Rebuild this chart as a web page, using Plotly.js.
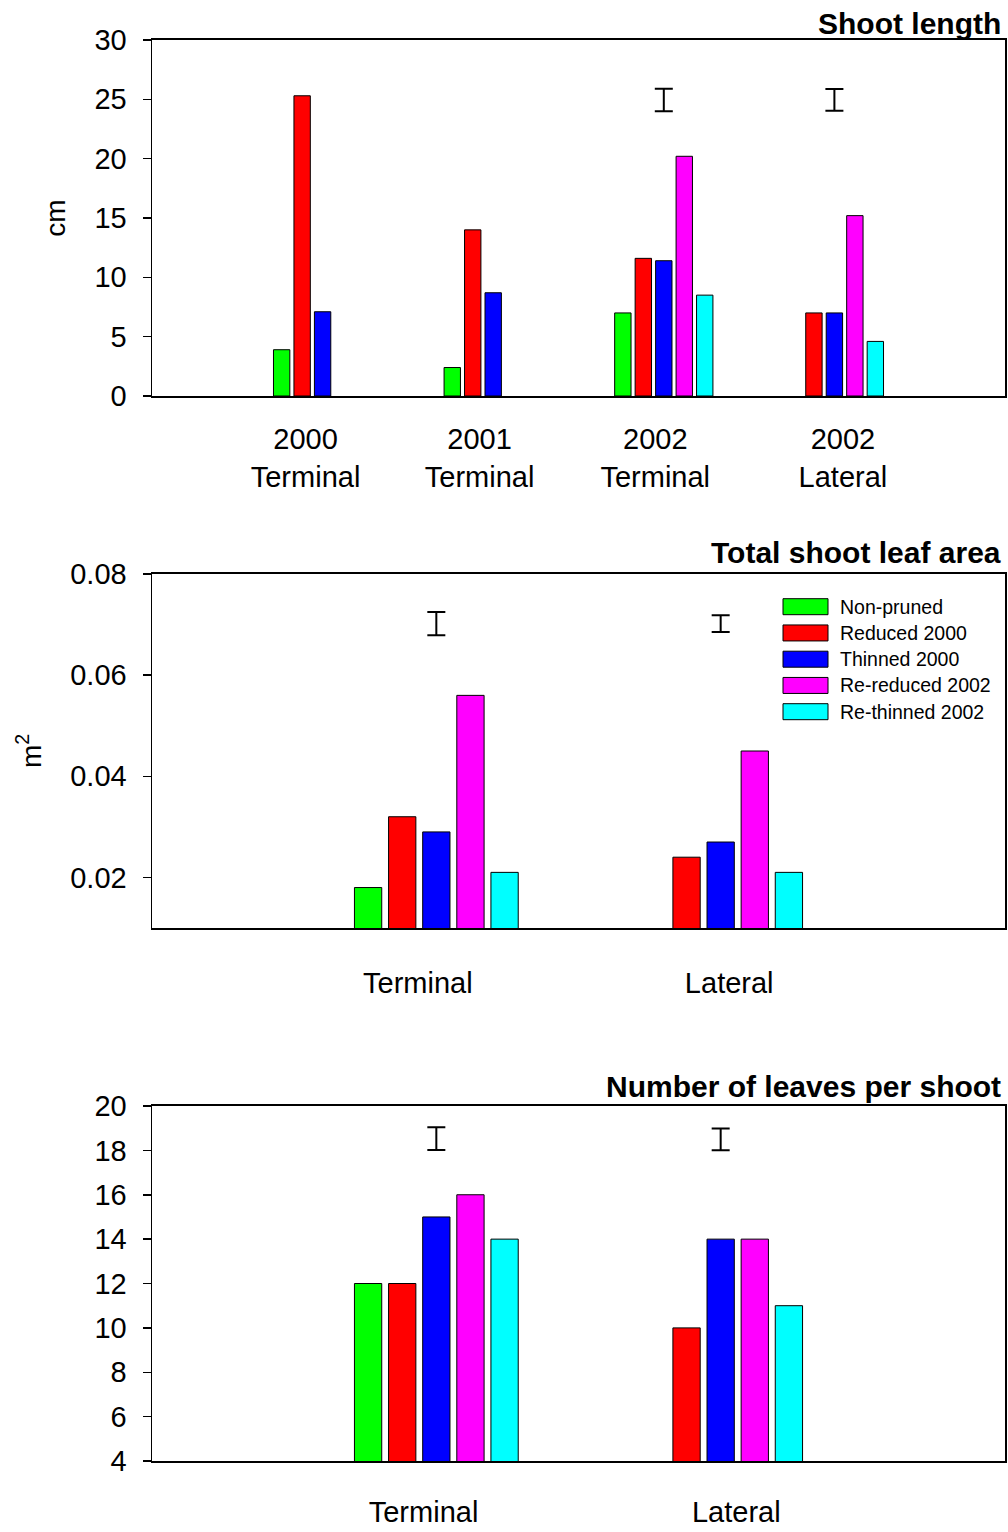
<!DOCTYPE html>
<html><head><meta charset="utf-8">
<script src="https://cdn.plot.ly/plotly-3.0.1.min.js"></script>
<style>html,body{margin:0;padding:0;background:#fff}</style>
</head><body>
<div id="chart" style="width:1008px;height:1532px"></div>
<script>
// ---------- data ----------
const seriesNames = ['Non-pruned', 'Reduced 2000', 'Thinned 2000', 'Re-reduced 2002', 'Re-thinned 2002'];
const seriesColors = ['#00ff00', '#ff0000', '#0000ff', '#ff00ff', '#00ffff'];

// Panel 1: Shoot length (cm)
const lengthCategories = ['2000<br>Terminal', '2001<br>Terminal', '2002<br>Terminal', '2002<br>Lateral'];
const lengthNonPruned = [3.9, 2.4, 7.0, null];
const lengthReduced2000 = [25.3, 14.0, 11.6, 7.0];
const lengthThinned2000 = [7.1, 8.7, 11.4, 7.0];
const lengthReReduced2002 = [null, null, 20.2, 15.2];
const lengthReThinned2002 = [null, null, 8.5, 4.6];
const lengthLsdCategories = ['2002<br>Terminal', '2002<br>Lateral'];
const lengthLsdCenter = [24.95, 24.95];
const lengthLsdHalf = [0.95, 0.92];
const lengthTicks = [0, 5, 10, 15, 20, 25, 30];

// Panel 2: Total shoot leaf area (m2)
const areaCategories = ['Terminal', 'Lateral'];
const areaNonPruned = [0.018, null];
const areaReduced2000 = [0.032, 0.024];
const areaThinned2000 = [0.029, 0.027];
const areaReReduced2002 = [0.056, 0.045];
const areaReThinned2002 = [0.021, 0.021];
const areaLsdCenter = [0.0702, 0.0702];
const areaLsdHalf = [0.0023, 0.00165];
const areaTicks = [0.02, 0.04, 0.06, 0.08];

// Panel 3: Number of leaves per shoot
const leavesCategories = ['Terminal', 'Lateral'];
const leavesNonPruned = [12, null];
const leavesReduced2000 = [12, 10];
const leavesThinned2000 = [15, 14];
const leavesReReduced2002 = [16, 14];
const leavesReThinned2002 = [14, 11];
const leavesLsdCenter = [18.53, 18.5];
const leavesLsdHalf = [0.51, 0.49];
const leavesTicks = [4, 6, 8, 10, 12, 14, 16, 18, 20];

// ---------- build ----------
const W = 1008, H = 1532;
const px = v => v / W;
const py = v => 1 - v / H;
const FONT = 'Liberation Sans, Arial, sans-serif';

const traces = [];
function addPanel(cats, seriesVals, lsdCenter, lsdHalf, lsdCats, xa, ya) {
  seriesVals.forEach((vals, i) => {
    traces.push({
      type: 'bar', x: cats, y: vals, name: seriesNames[i],
      xaxis: xa, yaxis: ya, showlegend: false,
      marker: {color: seriesColors[i], line: {color: '#000', width: 1}},
      hoverinfo: 'x+y+name'
    });
  });
  traces.push({
    type: 'scatter', mode: 'markers', x: lsdCats, y: lsdCenter,
    xaxis: xa, yaxis: ya, showlegend: false, hoverinfo: 'skip',
    marker: {size: 1, color: 'rgba(0,0,0,0)'},
    error_y: {type: 'data', array: lsdHalf, visible: true, color: '#000', thickness: 2, width: 9}
  });
}
addPanel(lengthCategories,
  [lengthNonPruned, lengthReduced2000, lengthThinned2000, lengthReReduced2002, lengthReThinned2002],
  lengthLsdCenter, lengthLsdHalf, lengthLsdCategories, 'x', 'y');
addPanel(areaCategories,
  [areaNonPruned, areaReduced2000, areaThinned2000, areaReReduced2002, areaReThinned2002],
  areaLsdCenter, areaLsdHalf, areaCategories, 'x2', 'y2');
addPanel(leavesCategories,
  [leavesNonPruned, leavesReduced2000, leavesThinned2000, leavesReReduced2002, leavesReThinned2002],
  leavesLsdCenter, leavesLsdHalf, leavesCategories, 'x3', 'y3');

const xDomain = [px(152), px(1005)];
// tick labels are placed slightly off the group centres, as in the original figure
function xAxis(anchor, range, standoff, cats, shifts) {
  return {
    domain: xDomain, anchor: anchor, type: 'category', range: range,
    categoryorder: 'array', categoryarray: cats,
    tickmode: 'array', tickvals: cats.map((c, i) => i + shifts[i]), ticktext: cats,
    showline: true, linecolor: '#000', linewidth: 2, mirror: true,
    ticks: '', showgrid: false, zeroline: false, fixedrange: true,
    ticklabelstandoff: standoff,
    tickfont: {family: FONT, size: 29, color: '#000'}
  };
}
function yAxis(anchor, domain, range, tickvals, fmt, title) {
  const a = {
    domain: domain, anchor: anchor, range: range, tickvals: tickvals,
    tickformat: fmt, showline: true, linecolor: '#000', linewidth: 1.5, mirror: true,
    ticks: 'outside', ticklen: 8, tickwidth: 1.5, tickcolor: '#000',
    showgrid: false, zeroline: false, fixedrange: true, ticklabelstandoff: 10,
    tickfont: {family: FONT, size: 29, color: '#000'}
  };
  if (title) a.title = {text: title, font: {family: FONT, size: 28, color: '#000'}, standoff: 20};
  return a;
}

const annotations = [];
const titles = [['Shoot length', 24], ['Total shoot leaf area', 553], ['Number of leaves per shoot', 1086]];
titles.forEach(t => annotations.push({
  xref: 'paper', yref: 'paper', x: px(1003), y: py(t[1]), xanchor: 'right', yanchor: 'middle',
  text: '<b>' + t[0] + '</b>', showarrow: false, font: {family: FONT, size: 30, color: '#000'}
}));

const shapes = [];
seriesNames.forEach((name, i) => {
  const c = 606.7 + i * 26.25;
  shapes.push({
    type: 'rect', xref: 'paper', yref: 'paper',
    x0: px(783), x1: px(828), y0: py(c + 8), y1: py(c - 8),
    fillcolor: seriesColors[i], line: {color: '#000', width: 1}
  });
  annotations.push({
    xref: 'paper', yref: 'paper', x: px(838), y: py(c), xanchor: 'left', yanchor: 'middle',
    text: name, showarrow: false, font: {family: FONT, size: 19.5, color: '#000'}
  });
});

const layout = {
  width: W, height: H, margin: {l: 0, r: 0, t: 0, b: 0},
  paper_bgcolor: '#fff', plot_bgcolor: '#fff',
  barmode: 'group', bargap: 0.4, bargroupgap: 0.2,
  showlegend: false,
  xaxis: xAxis('y', [-1, 4], 16, lengthCategories, [-0.10, -0.08, -0.05, 0.05]),
  xaxis2: xAxis('y2', [-1, 2], 28, areaCategories, [-0.065, 0.03]),
  xaxis3: xAxis('y3', [-1, 2], 24, leavesCategories, [-0.045, 0.055]),
  yaxis: yAxis('x', [py(396), py(40)], [0, 30], lengthTicks, 'd', 'cm'),
  yaxis2: yAxis('x2', [py(928), py(574)], [0.01, 0.08], areaTicks, '.2f', 'm<sup>2</sup>'),
  yaxis3: yAxis('x3', [py(1461), py(1106)], [4, 20], leavesTicks, 'd', null),
  annotations: annotations, shapes: shapes
};

Plotly.newPlot('chart', traces, layout, {displayModeBar: false, staticPlot: true});
</script>
</body></html>
